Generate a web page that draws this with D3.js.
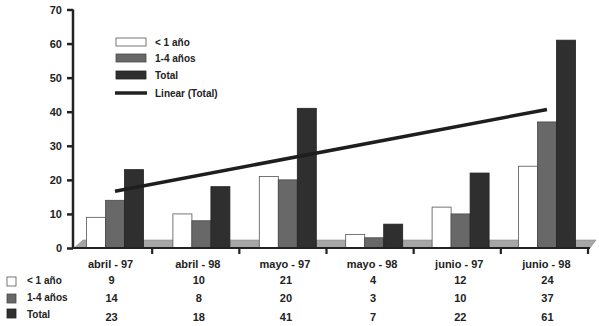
<!DOCTYPE html>
<html><head><meta charset="utf-8">
<script src="https://cdn.jsdelivr.net/npm/d3@7"></script>
<style>
html,body{margin:0;padding:0;background:#fff;}
svg{display:block;font-family:"Liberation Sans",Arial,sans-serif;font-weight:bold;}
</style></head>
<body>
<svg id="chart" width="599" height="326"></svg>
<script>
const categories = ["abril - 97","abril - 98","mayo - 97","mayo - 98","junio - 97","junio - 98"];
const seriesNames = ["< 1 año","1-4 años","Total"];
const menos1 = [9,10,21,4,12,24];
const uno4 = [14,8,20,3,10,37];
const total = [23,18,41,7,22,61];
const yTicks = [0,10,20,30,40,50,60,70];
const trendName = "Linear (Total)";

const series = [menos1, uno4, total];
const fills = ["#ffffff","#686868","#2f2f2f"];
const strokes = ["#555","#4a4a4a","#222"];

const svg = d3.select("#chart");
const y = d3.scaleLinear().domain([0,70]).range([248,9.5]);
const xAxisBand = d3.scaleBand().domain(categories).range([67,590]);
const xBars = d3.scaleBand().domain(categories).range([71.8,590.2]);
const barW = 19;
const xInner = d3.scaleBand().domain(d3.range(3)).range([0,barW*3]);

// 3D floor
const floor = d3.path();
floor.moveTo(74,248); floor.lineTo(83,240); floor.lineTo(596,240); floor.lineTo(590,248); floor.closePath();
svg.append("path").attr("d",floor.toString()).attr("fill","#a6a6a6").attr("stroke","#8a8a8a").attr("stroke-width",0.6);

// bars
series.forEach((vals,si)=>{
  svg.append("g").selectAll("rect").data(vals).join("rect")
    .attr("x",(d,i)=>xBars(categories[i])+xBars.bandwidth()/2-barW*1.5+xInner(si))
    .attr("y",d=>y(d))
    .attr("width",barW)
    .attr("height",d=>y(0)-y(d))
    .attr("fill",fills[si])
    .attr("stroke",strokes[si])
    .attr("stroke-width",0.8);
});

// trendline (linear regression of Total)
const xs = d3.range(1,total.length+1);
const mx = d3.mean(xs), my = d3.mean(total);
const slope = d3.sum(xs,(x,i)=>(x-mx)*(total[i]-my))/d3.sum(xs,x=>(x-mx)*(x-mx));
const icpt = my - slope*mx;
const cx = i => xBars(categories[i])+xBars.bandwidth()/2;
svg.append("line")
  .attr("x1",cx(0)).attr("y1",y(icpt+slope*1))
  .attr("x2",cx(total.length-1)).attr("y2",y(icpt+slope*total.length))
  .attr("stroke","#1e1e1e").attr("stroke-width",3.5);

// y axis
const yAxis = svg.append("g").attr("transform","translate(73,0)")
  .call(d3.axisLeft(y).tickValues(yTicks).tickSize(6).tickPadding(5).tickFormat(d3.format("d")));
yAxis.select(".domain").attr("stroke","#222").attr("stroke-width",2.5).attr("d","M0,"+y(70)+"V"+y(0));
yAxis.selectAll(".tick line").attr("stroke","#222").attr("stroke-width",2.5);
yAxis.selectAll(".tick text").attr("fill","#222").attr("font-size",11).attr("font-weight","bold")
  .attr("font-family","'Liberation Sans',Arial,sans-serif");

// x axis
const xAxis = svg.append("g").attr("transform","translate(0,248)")
  .call(d3.axisBottom(xAxisBand).tickSize(0).tickPadding(12).tickSizeOuter(0));
xAxis.select(".domain").attr("stroke","#222").attr("stroke-width",2).attr("d","M72,0H590");
xAxis.selectAll(".tick text").attr("fill","#222").attr("font-size",11).attr("font-weight","bold")
  .attr("font-family","'Liberation Sans',Arial,sans-serif").attr("dy","0.71em");
// category separators
svg.append("g").selectAll("line").data(categories).join("line")
  .attr("x1",d=>xAxisBand(d)+xAxisBand.bandwidth()-2).attr("x2",d=>xAxisBand(d)+xAxisBand.bandwidth()-2)
  .attr("y1",248).attr("y2",254).attr("stroke","#222").attr("stroke-width",2.2);

// legend
const leg = svg.append("g");
const legY = [38,54,71];
seriesNames.forEach((n,i)=>{
  leg.append("rect").attr("x",116).attr("y",legY[i]).attr("width",30).attr("height",8)
    .attr("fill",fills[i]).attr("stroke",strokes[i]).attr("stroke-width",0.8);
  leg.append("text").attr("x",155).attr("y",legY[i]+8).attr("font-size",10).attr("fill","#222").text(n);
});
leg.append("line").attr("x1",115).attr("x2",147).attr("y1",93).attr("y2",93).attr("stroke","#222").attr("stroke-width",3.5);
leg.append("text").attr("x",155).attr("y",97).attr("font-size",10).attr("fill","#222").text(trendName);

// data table
const rowBase = [284,302,321];
const labelBase = [284,301,318];
const boxY = [277,294,309];
series.forEach((vals,si)=>{
  svg.append("rect").attr("x",7).attr("y",boxY[si]).attr("width",9).attr("height",9)
    .attr("fill",fills[si]).attr("stroke",strokes[si]).attr("stroke-width",0.8);
  svg.append("text").attr("x",27).attr("y",labelBase[si]).attr("font-size",10).attr("fill","#222").text(seriesNames[si]);
  svg.append("g").selectAll("text").data(vals).join("text")
    .attr("x",(d,i)=>xAxisBand(categories[i])+xAxisBand.bandwidth()/2+1)
    .attr("y",rowBase[si]).attr("text-anchor","middle").attr("font-size",11).attr("fill","#222")
    .text(d=>d);
});
</script>
</body></html>
